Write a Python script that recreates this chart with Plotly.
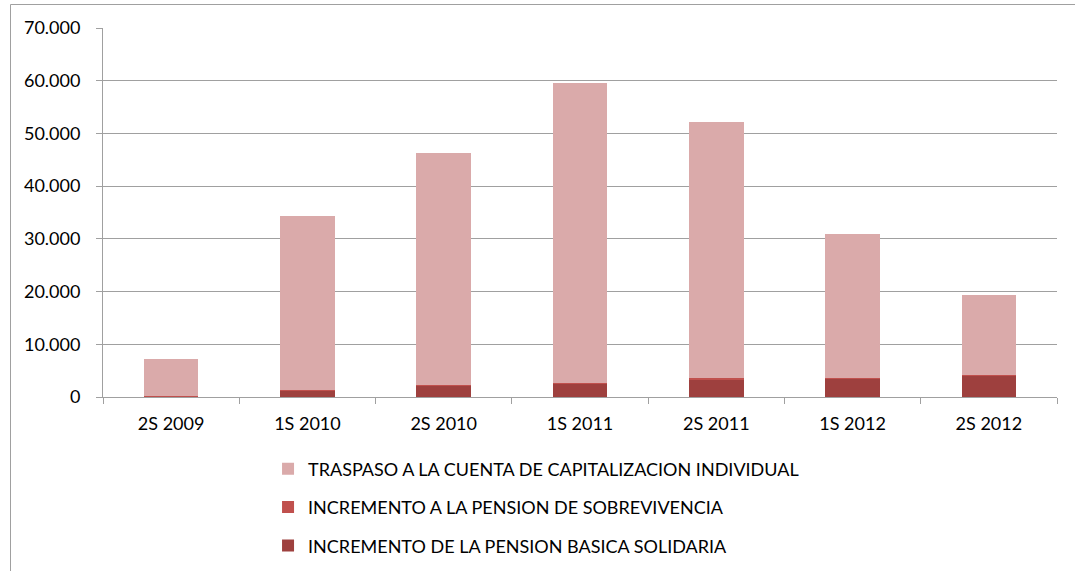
import plotly.graph_objects as go

categories = ["2S 2009", "1S 2010", "2S 2010", "1S 2011", "2S 2011", "1S 2012", "2S 2012"]
basica = [150, 1300, 2200, 2550, 3400, 3500, 4000]
sobrevivencia = [30, 50, 60, 100, 150, 100, 200]
traspaso = [7120, 32950, 44040, 56950, 48650, 27300, 15200]
y_ticks = [0, 10000, 20000, 30000, 40000, 50000, 60000, 70000]

names = ["INCREMENTO DE LA PENSION BASICA SOLIDARIA",
         "INCREMENTO A LA PENSION DE SOBREVIVENCIA",
         "TRASPASO A LA CUENTA DE CAPITALIZACION INDIVIDUAL"]
colors = ["#9E403E", "#C0504D", "#DAAAAA"]
ranks = [3, 2, 1]

fig = go.Figure()
for i, (nm, vals) in enumerate(zip(names, [basica, sobrevivencia, traspaso])):
    fig.add_trace(go.Bar(x=categories, y=vals, name=nm, marker_color=colors[i],
                         marker_line_width=0, legendgroup="g%d" % i,
                         legendrank=ranks[i]))

FONT = "Lato"
fig.update_layout(
    barmode="stack",
    bargap=0.6,
    width=1075, height=571,
    margin=dict(l=103, r=18, t=28, b=174, autoexpand=False),
    paper_bgcolor="white", plot_bgcolor="white",
    separators=",.",
    font=dict(family=FONT, size=18, color="#000000"),
    showlegend=True,
    legend=dict(orientation="v", x=0.173, xanchor="left", y=-0.145, yanchor="top",
                traceorder="grouped", tracegroupgap=12,
                font=dict(family=FONT, size=18, color="#000000"),
                itemwidth=30, bgcolor="rgba(0,0,0,0)"),
    xaxis=dict(type="category", showline=True, linecolor="#A0A0A0", linewidth=1,
               ticks="outside", tickson="boundaries", ticklen=6, tickcolor="#A0A0A0",
               showgrid=False, ticklabelstandoff=10, automargin=False),
    yaxis=dict(range=[0, 70000], tickvals=y_ticks, tickformat=",d",
               showline=True, linecolor="#A0A0A0", linewidth=1,
               ticks="outside", ticklen=6, tickcolor="#A0A0A0",
               showgrid=True, gridcolor="#A0A0A0", gridwidth=1,
               zeroline=False, ticklabelstandoff=12, automargin=False),
    shapes=[dict(type="rect", xref="paper", yref="paper",
                 x0=(10.5 - 103) / 954, x1=1.2, y0=-0.8, y1=1 + (28 - 4.5) / 369,
                 line=dict(color="#A0A0A0", width=1), fillcolor="rgba(0,0,0,0)", layer="below")],
)

fig.write_html("out.html", config={"displayModeBar": False},
               post_script="document.body.style.margin='0';document.body.style.overflow='hidden';")
